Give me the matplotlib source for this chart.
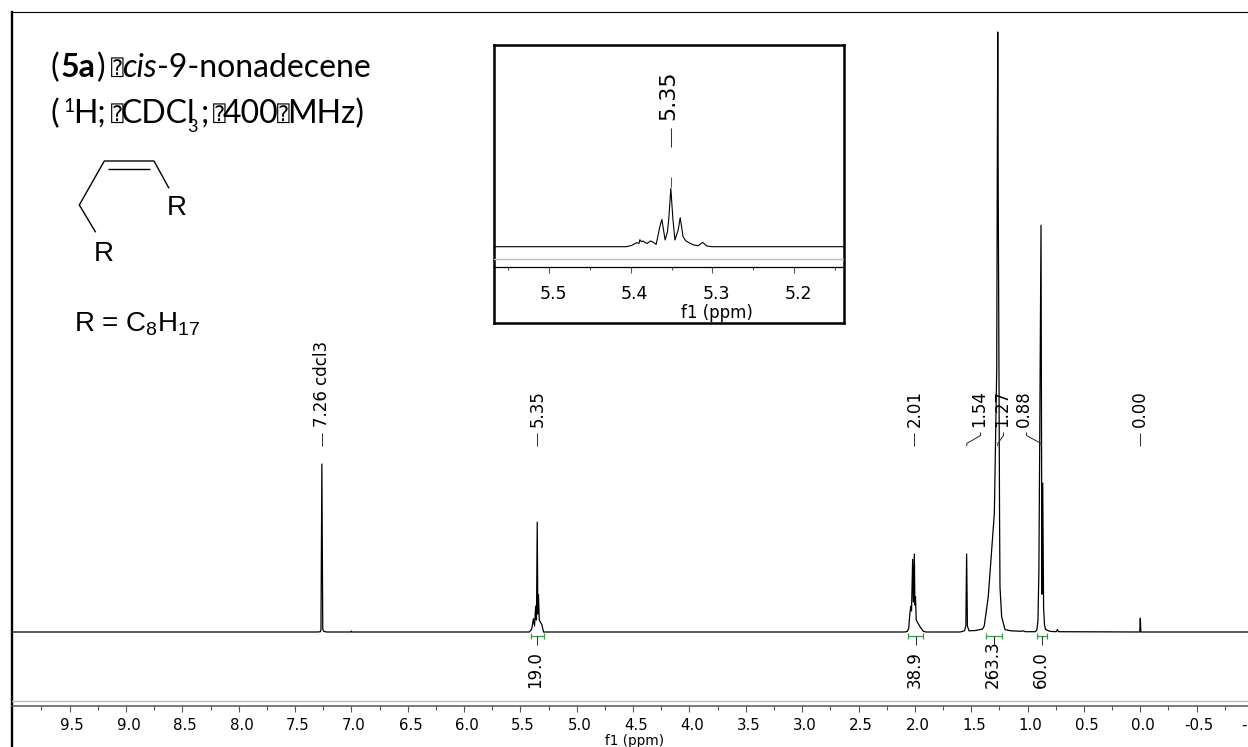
import numpy as np
import matplotlib
matplotlib.use("Agg")
import matplotlib.pyplot as plt
from matplotlib.lines import Line2D
from matplotlib.ticker import FixedLocator
from matplotlib.transforms import ScaledTranslation

plt.rcParams['font.family'] = 'DejaVu Sans'
plt.rcParams['axes.unicode_minus'] = False
plt.rcParams['mathtext.fontset'] = 'custom'
plt.rcParams['mathtext.rm'] = 'Liberation Sans'
plt.rcParams['mathtext.default'] = 'rm'

#Main spectrum (ppm, intensity in % of the tallest peak)
spectrum_ppm = [10.1, 7.30, 7.275, 7.27, 7.262, 7.254, 7.245, 7.22, 7.005, 7.0, 6.995,
                5.42, 5.40, 5.385, 5.375, 5.365, 5.358, 5.351, 5.346, 5.34, 5.333, 5.31, 5.295,
                2.09, 2.067, 2.055, 2.045, 2.037, 2.03, 2.02, 2.014, 2.005, 2.0, 1.995, 1.988, 1.98, 1.955, 1.925, 1.90,
                1.60, 1.56, 1.548, 1.541, 1.534, 1.52, 1.46, 1.40, 1.385, 1.37, 1.349, 1.295, 1.274, 1.27, 1.265,
                1.26, 1.254, 1.249, 1.245, 1.23, 1.20, 1.15, 1.06, 1.04, 1.02,
                0.93, 0.917, 0.908, 0.90, 0.893, 0.881, 0.873, 0.866, 0.858, 0.85, 0.84, 0.80, 0.745, 0.735, 0.725,
                0.005, 0.0, -0.005, -1.5]
spectrum_int = [0.0, 0.0, 0.05, 0.4, 28.0, 0.5, 0.1, 0.0, 0.0, 0.15, 0.0,
                0.0, 0.5, 2.2, 1.0, 4.3, 2.0, 18.3, 3.0, 6.2, 2.0, 1.2, 0.0,
                0.0, 0.1, 0.6, 3.0, 4.3, 3.5, 12.1, 5.0, 13.0, 4.5, 5.9, 2.0, 1.7, 0.9, 0.1, 0.0,
                0.0, 0.2, 1.0, 13.0, 1.0, 0.2, 0.25, 0.5, 1.0, 3.0, 5.9, 19.8, 43.7, 70.0, 100.0,
                70.0, 43.7, 19.8, 7.5, 2.5, 0.4, 0.2, 0.12, 0.2, 0.05,
                0.05, 0.4, 2.0, 10.0, 30.0, 67.8, 6.3, 24.8, 4.0, 1.2, 0.4, 0.1, 0.05, 0.4, 0.05,
                0.0, 2.3, 0.0, 0.0]

#Inset trace around the olefinic signal (ppm, height above its baseline)
inset_ppm = [5.60, 5.4055, 5.399, 5.393, 5.390, 5.389, 5.387, 5.385, 5.383, 5.380, 5.376, 5.373, 5.369, 5.367,
             5.3645, 5.362, 5.358, 5.3551, 5.3535, 5.351, 5.3485, 5.346, 5.342, 5.3395, 5.336, 5.3325, 5.328,
             5.323, 5.3175, 5.312, 5.307, 5.301, 5.10]
inset_int = [0.0, 0.0, 1.3, 4.0, 3.3, 7.0, 5.0, 5.7, 4.3, 3.3, 5.7, 4.7, 2.3, 10.0,
             20.0, 27.3, 6.7, 15.0, 28.0, 58.3, 28.0, 6.7, 16.7, 29.0, 10.0, 5.7, 3.7,
             1.7, 1.0, 4.3, 0.7, 0.0, 0.0]

#Picked peaks
peak_labels = ['7.26 cdcl3', '5.35', '2.01', '1.54', '1.27', '0.88', '0.00']
peak_ppm = [7.26, 5.35, 2.005, 1.54, 1.265, 0.88, 0.0]

#Integrals
integral_labels = ['19.0', '38.9', '263.3', '60.0']
integral_from = [5.41, 2.06, 1.37, 0.92]
integral_to = [5.295, 1.925, 1.23, 0.825]

#Axis ticks
main_major = [9.5, 9.0, 8.5, 8.0, 7.5, 7.0, 6.5, 6.0, 5.5, 5.0, 4.5, 4.0, 3.5, 3.0, 2.5, 2.0, 1.5, 1.0, 0.5, 0.0, -0.5, -1.0]
main_minor = [9.75, 9.25, 8.75, 8.25, 7.75, 7.25, 6.75, 6.25, 5.75, 5.25, 4.75, 4.25, 3.75, 3.25, 2.75, 2.25, 1.75, 1.25, 0.75, 0.25, -0.25, -0.75]
inset_major = [5.5, 5.4, 5.3, 5.2]
inset_minor = [5.55, 5.45, 5.35, 5.25, 5.15]

W, H = 1248, 747
fig = plt.figure(figsize=(W / 100, H / 100), dpi=100)

def box(left, top, right, bottom):
    return [left / W, 1 - bottom / H, (right - left) / W, (bottom - top) / H]

def fx(px):
    return px / W

def fy(py):
    return 1 - py / H

def fig_line(xs, ys, color='black', lw=0.75):
    fig.add_artist(Line2D([fx(v) for v in xs], [fy(v) for v in ys], color=color, lw=lw, solid_capstyle='butt'))

def fig_text(px, py, s, **kw):
    fig.text(fx(px), fy(py), s, **kw)

#Outer frame: only left and top lines
frame = fig.add_axes(box(12, 12, 1400, 900))
frame.set_xticks([])
frame.set_yticks([])
frame.spines[['right', 'bottom']].set_visible(False)
frame.spines['left'].set_linewidth(1.7)
frame.spines['top'].set_linewidth(0.8)

#Main spectrum: 112.7 px per ppm, 0.0 at x=1140.3
ax = fig.add_axes(box(12, 12, 1400, 706))
ax.patch.set_alpha(0)
ax.set_xlim((1140.3 - 12) / 112.7, (1140.3 - 1400) / 112.7)
ax.set_ylim(-74 / 6, 620 / 6)
ax.plot(spectrum_ppm, spectrum_int, color='black', lw=0.9)
ax.axhline(-69 / 6, color='#bdbdbd', lw=1.0)
ax.spines[['left', 'right', 'top']].set_visible(False)
ax.spines['bottom'].set_linewidth(1.1)
ax.spines['bottom'].set_color('#555555')
ax.set_yticks([])
ax.xaxis.set_major_locator(FixedLocator(main_major))
ax.xaxis.set_minor_locator(FixedLocator(main_minor))
ax.set_xticklabels([f'{v:.1f}' for v in main_major], fontsize=10.8)
ax.tick_params(axis='x', which='major', length=4.5, width=0.8, color='#555555', pad=4)
ax.tick_params(axis='x', which='minor', length=3, width=0.8, color='#555555')
shift = ScaledTranslation(2.7 / 100, 0, fig.dpi_scale_trans)
for lab in ax.get_xticklabels():
    lab.set_transform(lab.get_transform() + shift)
fig_text(635, 741, 'f1 (ppm)', fontsize=9.8, ha='center', va='center')

def xpx(ppm):
    return 1140.3 - 112.7 * ppm

#Peak labels and their connectors, label x in pixels
label_x = [322, 537.5, 915, 979, 1002, 1024, 1140.3]
for name, ppm, lx in zip(peak_labels, peak_ppm, label_x):
    fig_text(lx, 427, name, rotation=90, fontsize=12, ha='center', va='bottom')
    px = xpx(ppm)
    if abs(px - lx) < 1:
        fig_line([px, px], [433, 446], color='#333333')
    else:
        knee = lx + 1.5 if px < lx else lx + 2.5
        fig_line([knee, knee, px, px], [432.5, 435.5, 443.5, 446], color='#333333')

#Integral brackets under the baseline
for name, start, stop in zip(integral_labels, integral_from, integral_to):
    x0, x1 = xpx(start), xpx(stop)
    fig_line([x0, x1], [635.7, 635.7], color='#3a9a4a', lw=0.9)
    fig_line([x0, x0], [632.7, 638.7], color='#3a9a4a', lw=0.9)
    fig_line([x1, x1], [632.7, 638.7], color='#3a9a4a', lw=0.9)
    mid = (x0 + x1) / 2
    fig_line([mid, mid], [635.7, 645], color='#333333')
    fig_text(mid - 1.5, 688, name, rotation=90, fontsize=12, ha='center', va='bottom')

#Inset
inset_frame = fig.add_axes(box(494, 45, 843.5, 323))
inset_frame.set_xticks([])
inset_frame.set_yticks([])
for side in inset_frame.spines.values():
    side.set_linewidth(1.8)

axi = fig.add_axes(box(494, 46, 843.5, 266.7))
axi.patch.set_alpha(0)
axi.set_xlim(5.5 + (549.3 - 494) / 816, 5.2 - (843.5 - 794) / 816)
axi.set_ylim(-20, 200.7)
axi.plot(inset_ppm, inset_int, color='black', lw=0.8)
axi.axhline(-12.6, color='#bdbdbd', lw=1.0)
axi.spines[['left', 'right', 'top']].set_visible(False)
axi.spines['bottom'].set_linewidth(0.9)
axi.set_yticks([])
axi.xaxis.set_major_locator(FixedLocator(inset_major))
axi.xaxis.set_minor_locator(FixedLocator(inset_minor))
axi.set_xticklabels([f'{v:.1f}' for v in inset_major], fontsize=12.5)
axi.tick_params(axis='x', which='major', length=4, width=0.8, color='#555555', pad=9)
axi.tick_params(axis='x', which='minor', length=2.5, width=0.8, color='#555555')
inset_shift = ScaledTranslation(4 / 100, 0, fig.dpi_scale_trans)
for lab in axi.get_xticklabels():
    lab.set_transform(lab.get_transform() + inset_shift)
fig_text(716.7, 312.5, 'f1 (ppm)', fontsize=12, ha='center', va='center')
fig_text(668, 120, '5.35', rotation=90, fontsize=16, ha='center', va='bottom')
fig_line([671, 671], [128, 147], color='#333333')
fig_line([671, 671], [177, 187], color='#555555')

#Title, set in pieces since the faces change inside a line
title_size = 23
fig_text(50, 77, '(', fontsize=title_size, family='Lato')
fig_text(61, 77, '5a', fontsize=title_size, family='Lato', weight='bold')
fig_text(97, 77, ')', fontsize=title_size, family='Lato')
fig_text(122, 77, 'cis', fontsize=title_size, family='Lato', style='italic')
fig_text(157, 77, '-9-nonadecene', fontsize=title_size, family='Lato')
fig_text(50, 123, '(', fontsize=title_size, family='Lato')
fig_text(63, 112, '1', fontsize=14, family='Lato')
fig_text(73, 123, 'H;', fontsize=title_size, family='Lato')
fig_text(120, 123, 'CDCl', fontsize=title_size, family='Lato')
fig_text(187.5, 131.5, '3', fontsize=13, family='Lato')
fig_text(201, 123, ';', fontsize=title_size, family='Lato')
fig_text(223, 123, '400', fontsize=title_size, family='Lato')
fig_text(287, 123, 'MHz)', fontsize=title_size, family='Lato')
for gx, gy in [(111, 77), (111, 123), (213, 123), (277, 123)]:
    fig_text(gx, gy - 2, '\u2370', fontsize=15, family='DejaVu Sans Mono')

#Structure
fig_line([95.7, 79.3, 104.3, 154, 169], [232.3, 205, 161, 161, 188.3], lw=1.0)
fig_line([108.3, 150], [169, 169], lw=1.0)
fig_text(177, 215, 'R', fontsize=20, family='Liberation Sans', ha='center')
fig_text(104, 261, 'R', fontsize=20, family='Liberation Sans', ha='center')
fig_text(74, 332, 'R = C$_8$H$_{17}$', fontsize=20, family='Liberation Sans')

fig.savefig('out.png', dpi=100)
